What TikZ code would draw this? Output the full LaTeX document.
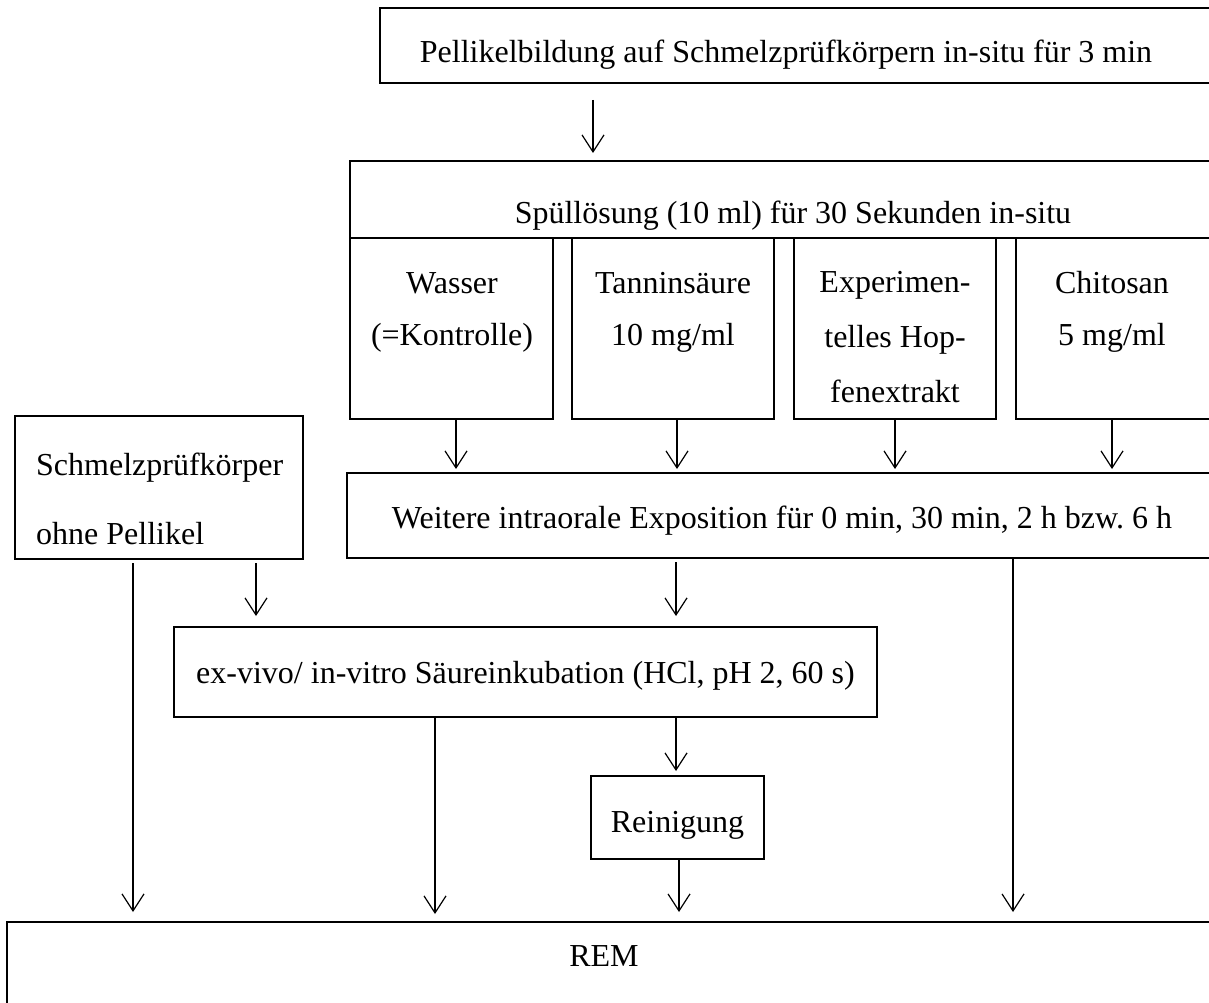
\documentclass[tikz,border=0pt]{standalone}
\usepackage{fontspec}
\setmainfont{Liberation Serif}
\usetikzlibrary{arrows.meta,fit}
\begin{document}
\begin{tikzpicture}[x=1pt,y=-1pt,
  box/.style={draw, line width=1.2pt, inner sep=0pt, outer sep=0pt},
  lbl/.style={inner sep=0pt, anchor=base, font=\fontsize{32}{38}\selectfont},
  lblw/.style={lbl, anchor=base west},
  arr/.style={line width=1.2pt, -{Straight Barb[length=17pt,width=22pt,line width=1.2pt]}}]
\useasboundingbox (0,0) rectangle (1209,1003);
\fill[white] (0,0) rectangle (1209,1003);
% boxes
\node[box, fit={(380,8) (1240,83)}] (top) {};
\node[box, fit={(350,161) (1240,238)}] (spuel) {};
\node[box, fit={(350,238) (553,419)}] (wasser) {};
\node[box, fit={(572,238) (774,419)}] (tannin) {};
\node[box, fit={(794,238) (996,419)}] (hopfen) {};
\node[box, fit={(1016,238) (1240,419)}] (chitosan) {};
\node[box, fit={(347,473) (1240,558)}] (weitere) {};
\node[box, fit={(15,416) (303,559)}] (schmelz) {};
\node[box, fit={(174,627) (877,717)}] (saeure) {};
\node[box, fit={(591,776) (764,859)}] (reinigung) {};
\node[box, fit={(7,922) (1240,1040)}] (rem) {};
% texts
\node[lbl] (tTop) at (786,63) {Pellikelbildung auf Schmelzprüfkörpern in-situ für 3 min};
\node[lbl] (tSpuel) at (793,223) {Spüllösung (10 ml) für 30 Sekunden in-situ};
\node[lbl] (tW1) at (452,293) {Wasser};
\node[lbl] (tW2) at (452,345) {(=Kontrolle)};
\node[lbl] (tT1) at (673,293) {Tanninsäure};
\node[lbl] (tT2) at (673,345) {10 mg/ml};
\node[lbl] (tH1) at (895,292) {Experimen-};
\node[lbl] (tH2) at (895,347) {telles Hop-};
\node[lbl] (tH3) at (895,402) {fenextrakt};
\node[lbl] (tC1) at (1112,293) {Chitosan};
\node[lbl] (tC2) at (1112,345) {5 mg/ml};
\node[lblw] (tS1) at (36,475) {Schmelzprüfkörper};
\node[lblw] (tS2) at (36,544) {ohne Pellikel};
\node[lbl] (tWeitere) at (782,528) {Weitere intraorale Exposition für 0 min, 30 min, 2 h bzw.\ 6 h};
\node[lbl] (tSaeure) at (525.5,683) {ex-vivo/ in-vitro Säureinkubation (HCl, pH 2, 60 s)};
\node[lbl] (tRein) at (677.5,832) {Reinigung};
\node[lbl] (tRem) at (604,966) {REM};
% x positions of connectors
\coordinate (c593) at (593,0);
\coordinate (c456) at (456,0);
\coordinate (c677) at (677,0);
\coordinate (c895) at (895,0);
\coordinate (c1112) at (1112,0);
\coordinate (c256) at (256,0);
\coordinate (c676) at (676,0);
\coordinate (c133) at (133,0);
\coordinate (c435) at (435,0);
\coordinate (c679) at (679,0);
\coordinate (c1013) at (1013,0);
% connectors
\draw[arr, shorten <=17pt, shorten >=8pt] (top.south -| c593) -- (spuel.north -| c593);
\draw[arr, shorten >=4pt] (wasser.south -| c456) -- (weitere.north -| c456);
\draw[arr, shorten >=4pt] (tannin.south -| c677) -- (weitere.north -| c677);
\draw[arr, shorten >=4pt] (hopfen.south -| c895) -- (weitere.north -| c895);
\draw[arr, shorten >=4pt] (chitosan.south -| c1112) -- (weitere.north -| c1112);
\draw[arr, shorten <=4pt, shorten >=11pt] (schmelz.south -| c256) -- (saeure.north -| c256);
\draw[arr, shorten <=4pt, shorten >=11pt] (weitere.south -| c676) -- (saeure.north -| c676);
\draw[arr, shorten <=4pt, shorten >=10pt] (schmelz.south -| c133) -- (rem.north -| c133);
\draw[arr, shorten >=8pt] (saeure.south -| c435) -- (rem.north -| c435);
\draw[arr, shorten >=5pt] (saeure.south -| c676) -- (reinigung.north -| c676);
\draw[arr, shorten >=10pt] (reinigung.south -| c679) -- (rem.north -| c679);
\draw[arr, shorten >=10pt] (weitere.south -| c1013) -- (rem.north -| c1013);
\end{tikzpicture}
\end{document}
